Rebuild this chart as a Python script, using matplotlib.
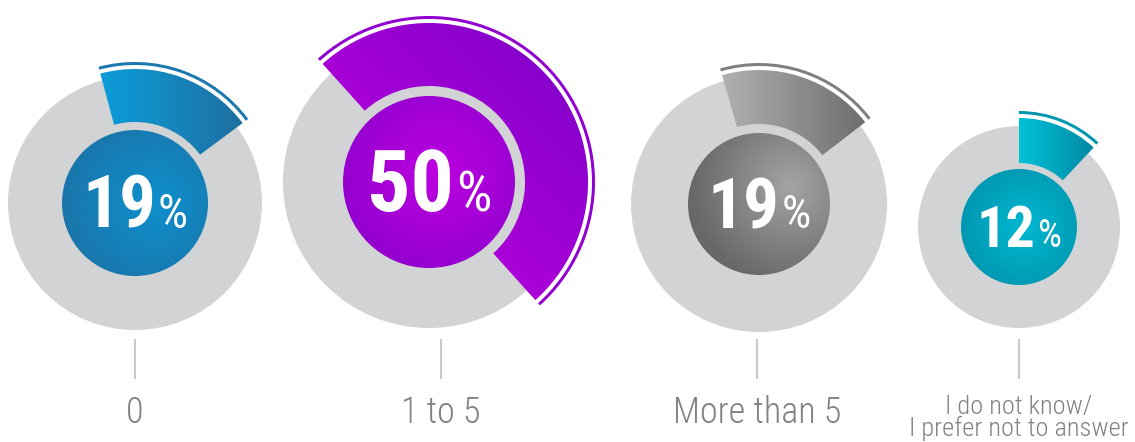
import numpy as np
import matplotlib
matplotlib.use("Agg")
import matplotlib.pyplot as plt
from matplotlib import font_manager
from matplotlib.patches import Wedge, Circle
from matplotlib.colors import to_rgb

W, H = 1135, 442

# data
categories = ["0", "1 to 5", "More than 5", "I do not know/\nI prefer not to answer"]
values = [19, 50, 19, 12]

# layout, pixel units measured from the top of the image
centers = [(135, 203), (429, 182), (759, 204), (1019, 227)]
disc_r = [127, 146, 128, 101]
core_r = [73, 86, 71, 58]
wedge_in = [81, 96, 80, 64]
wedge_out = [134, 159, 134, 109]
start_off = [-15, -42, -16, 0]  # degrees clockwise from 12 o'clock
label_x = [135, 441, 757, 1019]
label_size = [26, 26, 26, 19]

# colours
GRAY = "#d1d3d4"
wedge_cols = [("#0a9dda", "#1f6fa0"), ("#c900e3", "#7a00c6"),
              ("#b0b1b3", "#6b6d6f"), ("#00c2d8", "#0088a3")]
grad_angle = [0, 45, 0, 0]
arc_cols = ["#1b79ae", "#9000d0", "#7c7e80", "#0096b0"]
core_cols = [("#0e90cd", "#1b72a6"), ("#bd00e0", "#8a00cb"),
              ("#a3a4a6", "#67686a"), ("#00b8d0", "#008fa9")]
core_hl = [(0.25, 0.0), (0.1, 0.1), (0.45, 0.25), (0.1, 0.0)]

# pick the narrowest font that is around
fonts = font_manager.fontManager.ttflist
names = {f.name for f in fonts}
stretch = "normal"
FAM = "Roboto"
for cand in ["Roboto Condensed", "Liberation Sans Narrow", "Open Sans Condensed"]:
    if cand in names:
        FAM = cand
        break
else:
    if any(f.name == "DejaVu Sans" and f.stretch == "condensed" for f in fonts):
        FAM, stretch = "DejaVu Sans", "condensed"


def gradient_fill(ax, patch, c1, c2, angle=None, hl=None, R=None):
    bb = patch.get_path().get_extents(patch.get_patch_transform())
    n = 300
    xs = np.linspace(bb.x0, bb.x1, n)
    ys = np.linspace(bb.y0, bb.y1, n)
    X, Y = np.meshgrid(xs, ys)
    if angle is not None:
        a = np.radians(angle)
        p = X * np.cos(a) + Y * np.sin(a)
        t = (p - p.min()) / (p.max() - p.min())
    else:
        cx, cy = (bb.x0 + bb.x1) / 2, (bb.y0 + bb.y1) / 2
        t = np.hypot(X - (cx + hl[0] * R), Y - (cy + hl[1] * R)) / (1.4 * R)
    t = np.clip(t, 0, 1)[..., None]
    img = (1 - t) * np.array(to_rgb(c1)) + t * np.array(to_rgb(c2))
    im = ax.imshow(img, extent=(bb.x0, bb.x1, bb.y0, bb.y1), origin="lower",
                   interpolation="bilinear", zorder=patch.get_zorder())
    im.set_clip_path(patch)


fig = plt.figure(figsize=(W / 100, H / 100), dpi=100)
ax = fig.add_axes([0, 0, 1, 1])
ax.axis("off")

texts = []
for i, (cat, v) in enumerate(zip(categories, values)):
    cx, cy = centers[i][0], H - centers[i][1]
    s = start_off[i]
    span = v / 100 * 360
    t1, t2 = 90 - (s + span), 90 - s

    ax.add_patch(Circle((cx, cy), disc_r[i], fc=GRAY, ec="none", zorder=1))

    wd = Wedge((cx, cy), wedge_out[i], t1, t2, width=wedge_out[i] - wedge_in[i],
               fc="none", ec="none", zorder=2)
    ax.add_patch(wd)
    gradient_fill(ax, wd, wedge_cols[i][0], wedge_cols[i][1], angle=grad_angle[i])

    # thin outer arc
    ro = wedge_out[i] + 7
    ax.add_patch(Wedge((cx, cy), ro, t1, t2, width=3, fc=arc_cols[i], ec="none", zorder=2))

    core = Circle((cx, cy), core_r[i], fc="none", ec="none", zorder=3)
    ax.add_patch(core)
    gradient_fill(ax, core, core_cols[i][0], core_cols[i][1], hl=core_hl[i], R=core_r[i])

    # percentage text
    by = cy - 0.34 * core_r[i]
    tn = ax.text(cx, by, str(v), color="white", fontsize=0.72 * core_r[i],
                 fontweight="bold", family=FAM, fontstretch=stretch,
                 ha="right", va="baseline", zorder=5)
    tp = ax.text(cx + 2, by, "%", color="white", fontsize=0.47 * core_r[i],
                 family=FAM, fontstretch=stretch, ha="left", va="baseline", zorder=5)
    texts.append((cx, tn, tp))

    # tick and label
    lx = label_x[i]
    ax.plot([lx, lx], [H - 340, H - 378], color="#c9cacb", lw=1.5, zorder=1)
    ax.text(lx, H - 395, cat, color="#808285", fontsize=label_size[i], family=FAM,
            fontstretch=stretch, fontweight="light",
            ha="center", va="top", linespacing=0.85)

ax.set_xlim(0, W)
ax.set_ylim(0, H)
ax.set_aspect("equal")

# centre number + % as one group
fig.canvas.draw()
r = fig.canvas.get_renderer()
for cx, tn, tp in texts:
    wn = tn.get_window_extent(r).width
    wp = tp.get_window_extent(r).width
    total = wn + 2 + wp
    left = cx - total / 2
    tn.set_x(left + wn)
    tp.set_x(left + wn + 2)

fig.savefig("out.png", dpi=100)
